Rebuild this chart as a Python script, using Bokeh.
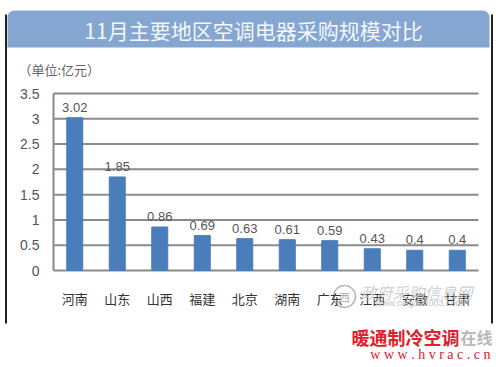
from bokeh.plotting import figure
from bokeh.models import Label, BoxAnnotation, ColumnDataSource, LabelSet
from bokeh.core.properties import value
from bokeh.embed import file_html
from bokeh.resources import INLINE

categories = ["河南", "山东", "山西", "福建", "北京", "湖南", "广东", "江西", "安徽", "甘肃"]
values = [3.02, 1.85, 0.86, 0.69, 0.63, 0.61, 0.59, 0.43, 0.4, 0.4]
value_labels = ["3.02", "1.85", "0.86", "0.69", "0.63", "0.61", "0.59", "0.43", "0.4", "0.4"]
y_ticks = [0, 0.5, 1, 1.5, 2, 2.5, 3, 3.5]
y_tick_labels = ["0", "0.5", "1", "1.5", "2", "2.5", "3", "3.5"]
title_text = "11月主要地区空调电器采购规模对比"
unit_text = "（单位:亿元）"

# layout (pixels): plot frame left/right/top/bottom
W, H = 499, 367
L, R, T, B = 53, 478, 93, 270
N = len(categories)
FONT = "Noto Sans CJK SC"
NUMFONT = "Liberation Sans"

xu = (R - L) / N            # pixels per category
yu = (B - T) / y_ticks[-1]  # pixels per value unit
def xd(px):
    return (px - L) / xu
def yd(py):
    return (B - py) / yu

p = figure(x_range=(xd(0), xd(W)), y_range=(yd(H), yd(0)), width=W, height=H,
           output_backend="svg", toolbar_location=None,
           x_axis_type=None, y_axis_type=None, min_border=0)
p.outline_line_color = None
p.background_fill_color = "white"
p.border_fill_color = "white"

xs = [i + 0.5 for i in range(N)]

# grid lines and left axis line
p.segment(x0=0, x1=N, y0=y_ticks, y1=y_ticks, line_color="#8a8a8a", line_width=2)
p.segment(x0=0, x1=0, y0=y_ticks[0], y1=y_ticks[-1], line_color="#8a8a8a", line_width=2)

# bars
src = ColumnDataSource(dict(x=xs, top=values, lab=value_labels,
                            cat=categories, cy=[yd(298)] * N))
p.vbar(x="x", top="top", width=16 / xu, source=src, color="#4a7ebb")
p.add_layout(LabelSet(x="x", y="top", text="lab", source=src, y_offset=6, text_align="center",
                      text_font=value(NUMFONT), text_font_size=value("13px"), text_color=value("#555555")))
# category labels
p.add_layout(LabelSet(x="x", y="cy", text="cat", source=src, text_align="center",
                      text_baseline="middle", text_font=value(FONT), text_font_size=value("13px"),
                      text_color=value("#333333")))
# y tick labels
tsrc = ColumnDataSource(dict(y=y_ticks, lab=y_tick_labels, x=[xd(39)] * len(y_ticks)))
p.add_layout(LabelSet(x="x", y="y", text="lab", source=tsrc, text_align="right",
                      text_baseline="middle", text_font=value(NUMFONT), text_font_size=value("14px"),
                      text_color=value("#555555")))

# title bar
p.add_layout(BoxAnnotation(left=xd(7), right=xd(489), top=yd(10), bottom=yd(47),
                           fill_color="#84a6d0", fill_alpha=1, line_color=None,
                           border_radius=dict(top_left=7, top_right=7, bottom_left=0, bottom_right=0)))
p.add_layout(Label(x=xd(253), y=yd(29), text=title_text, text_align="center",
                   text_baseline="middle", text_font=FONT, text_font_size="21px",
                   text_color="#f4f7fc"))
p.add_layout(Label(x=xd(18), y=yd(68.5), text=unit_text, text_align="left",
                   text_baseline="middle", text_font=FONT, text_font_size="13px",
                   text_color="#666666"))
# outer border lines
p.add_layout(BoxAnnotation(left=xd(4.5), right=xd(6.5), top=yd(14), bottom=yd(323),
                           fill_color="#222222", fill_alpha=1, line_color=None))
p.add_layout(BoxAnnotation(left=xd(490.5), right=xd(492.5), top=yd(14), bottom=yd(323),
                           fill_color="#222222", fill_alpha=1, line_color=None))

# source watermark over the last labels
p.circle(x=[xd(344)], y=[yd(296)], radius=11 / xu, fill_color=None, line_color="#b8b8b8", line_width=1.5)
p.add_layout(Label(x=xd(344), y=yd(296), text="西", text_align="center", text_baseline="middle",
                   text_font=FONT, text_font_size="11px", text_color="#aaaaaa"))
p.add_layout(Label(x=xd(360), y=yd(291), text="政府采购信息网", text_align="left", text_baseline="middle",
                   text_font=FONT, text_font_size="16px", text_color="#c4c4c4", text_font_style="italic",
                   text_alpha=0.8))
p.add_layout(Label(x=xd(375), y=yd(302), text="www.caigou2003.com", text_align="left", text_baseline="middle",
                   text_font=NUMFONT, text_font_size="9px", text_color="#c4c4c4"))

# site watermark
p.add_layout(Label(x=xd(459), y=yd(336), text="暖通制冷空调", text_align="right",
                   text_baseline="middle", text_font=FONT, text_font_size="18px",
                   text_font_style="bold", text_color="#e0202a"))
p.add_layout(Label(x=xd(460), y=yd(336), text="在线", text_align="left",
                   text_baseline="middle", text_font=FONT, text_font_size="16px",
                   text_font_style="bold", text_color="#b8b8b8"))
p.add_layout(Label(x=xd(490), y=yd(354), text="w w w . h v r a c . c n", text_align="right",
                   text_baseline="middle", text_font="Liberation Serif", text_font_size="14px",
                   text_color="#e0202a"))

open("out.html", "w").write(file_html(p, INLINE))
